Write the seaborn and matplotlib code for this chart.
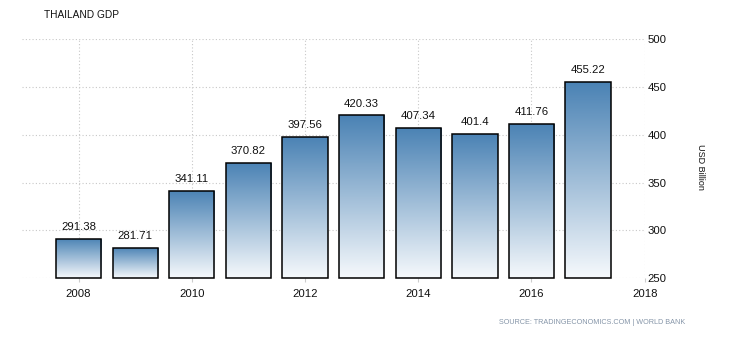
import matplotlib
matplotlib.use("Agg")
import matplotlib.pyplot as plt
import seaborn as sns
import numpy as np
import pandas as pd
from matplotlib.colors import LinearSegmentedColormap

years = [2008, 2009, 2010, 2011, 2012, 2013, 2014, 2015, 2016, 2017]
gdp = [291.38, 281.71, 341.11, 370.82, 397.56, 420.33, 407.34, 401.4, 411.76, 455.22]
value_labels = ["291.38", "281.71", "341.11", "370.82", "397.56", "420.33", "407.34", "401.4", "411.76", "455.22"]
x_ticks = [2008, 2010, 2012, 2014, 2016, 2018]
y_ticks = [250, 300, 350, 400, 450, 500]

sns.set_theme(style="white")
plt.rcParams['font.family'] = ['Liberation Sans', 'DejaVu Sans']

fig = plt.figure(figsize=(7.49, 3.38), dpi=100)
ax = fig.add_axes([22/749, 1 - 278.3/338, (644.7-22)/749, (278.3-39.3)/338])

df = pd.DataFrame({"year": years, "gdp": gdp})
sns.barplot(data=df, x="year", y="gdp", native_scale=True, width=0.8,
            color="#4682b4", edgecolor="black", linewidth=1.1, ax=ax, zorder=3)

ymin, ymax = 250, 500
ax.set_xlim(2007.0, 2018.0)
ax.set_ylim(ymin, ymax)

cmap = LinearSegmentedColormap.from_list("grad", ["#f6f9fc", "#4a82b4"])
grad = np.linspace(0, 1, 256).reshape(-1, 1)
for p in ax.patches:
    x0 = p.get_x()
    w, h = p.get_width(), p.get_height()
    top = p.get_y() + h
    # start the visible bar at the axis floor so its bottom edge shows
    p.set_y(ymin)
    p.set_height(top - ymin)
    im = ax.imshow(grad, extent=[x0, x0 + w, ymin, top], origin="lower",
                   cmap=cmap, aspect="auto", zorder=2.5, interpolation="bilinear")
    im.set_clip_path(p)
    p.set_facecolor("none")
    p.set_clip_on(False)

ax.set_xlim(2007.0, 2018.0)
ax.set_ylim(ymin, ymax)

for yr, v, lab in zip(years, gdp, value_labels):
    ax.annotate(lab, (yr, v), xytext=(0, 5), textcoords="offset points",
                ha="center", va="bottom", fontsize=8.2, color="#111111")

ax.set_xticks(x_ticks)
ax.set_xticklabels([str(t) for t in x_ticks])
ax.set_yticks(y_ticks)
ax.set_yticklabels([str(t) for t in y_ticks])
ax.yaxis.tick_right()
ax.tick_params(axis="y", length=0, pad=2, labelsize=8.2, labelcolor="#111111")
ax.tick_params(axis="x", length=3, width=0.8, color="#cccccc", pad=5,
               labelsize=8.2, labelcolor="#111111", bottom=True)

ax.grid(True, linestyle=(0, (1, 2)), color="#c8c8c8", linewidth=0.8, zorder=0)
ax.set_axisbelow(True)
for s in ax.spines.values():
    s.set_visible(False)
ax.set_xlabel("")
ax.set_ylabel("")

fig.text(700.5/749, 1 - 167/338, "USD Billion", rotation=-90, ha="center", va="center",
         fontsize=6.5, color="#111111")
fig.text(44/749, 1 - 15/338, "THAILAND GDP", ha="left", va="center",
         fontsize=7.3, color="#111111")
fig.text(685/749, 1 - 323/338, "SOURCE: TRADINGECONOMICS.COM | WORLD BANK", ha="right",
         va="center", fontsize=5.2, color="#8595a8")

fig.savefig("out.png", dpi=100)
